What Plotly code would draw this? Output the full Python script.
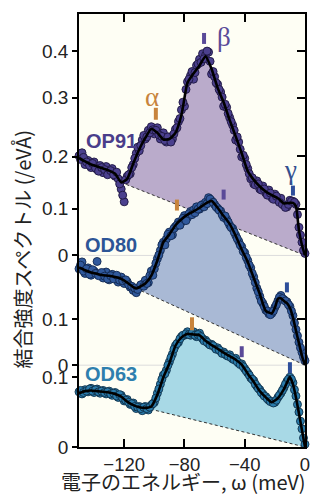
import plotly.graph_objects as go

# ---------------- data ----------------
E_EVEN = list(range(-150, 1, 2))   # measured energies (meV)
E_ODD = list(range(-149, 0, 2))

OP91_DOTS = [0.195, 0.201, 0.178, 0.186, 0.172, 0.183, 0.168, 0.176, 0.162, 0.174,
             0.160, 0.170, 0.155, 0.150, 0.130, 0.105, 0.155, 0.160, 0.178, 0.200,
             0.205, 0.226, 0.228, 0.245, 0.252, 0.238, 0.250, 0.228, 0.240, 0.222,
             0.232, 0.228, 0.247, 0.262, 0.285, 0.292, 0.340, 0.352, 0.345, 0.372,
             0.384, 0.395, 0.392, 0.398, 0.355, 0.350, 0.335, 0.320, 0.292, 0.290,
             0.270, 0.255, 0.226, 0.222, 0.193, 0.190, 0.170, 0.150, 0.140, 0.146,
             0.130, 0.136, 0.122, 0.128, 0.113, 0.120, 0.108, 0.112, 0.098, 0.095,
             0.108, 0.106, 0.100, 0.055, 0.026, 0.004]
OP91_DOTS_ODD = [0.188, 0.192, 0.183, 0.176, 0.180, 0.171, 0.165, 0.172, 0.168, 0.158,
                 0.166, 0.158, 0.163, 0.140, 0.118, 0.148, 0.158, 0.172, 0.190, 0.212,
                 0.215, 0.235, 0.232, 0.240, 0.246, 0.245, 0.236, 0.233, 0.225, 0.232,
                 0.222, 0.238, 0.250, 0.268, 0.300, 0.325, 0.345, 0.360, 0.358, 0.375,
                 0.378, 0.385, 0.400, 0.380, 0.360, 0.338, 0.325, 0.310, 0.296, 0.278,
                 0.262, 0.245, 0.232, 0.208, 0.196, 0.178, 0.160, 0.152, 0.138, 0.140,
                 0.128, 0.130, 0.118, 0.122, 0.110, 0.116, 0.104, 0.100, 0.094, 0.100,
                 0.106, 0.104, 0.080, 0.040, 0.010]
OD80_DOTS = [0.210, 0.225, 0.200, 0.212, 0.196, 0.205, 0.226, 0.198, 0.190, 0.203,
             0.186, 0.198, 0.190, 0.181, 0.192, 0.178, 0.182, 0.170, 0.163, 0.158,
             0.170, 0.176, 0.185, 0.180, 0.205, 0.210, 0.232, 0.250, 0.268, 0.275,
             0.290, 0.284, 0.302, 0.312, 0.312, 0.326, 0.322, 0.335, 0.338, 0.345,
             0.340, 0.350, 0.355, 0.365, 0.358, 0.350, 0.342, 0.336, 0.322, 0.318,
             0.305, 0.298, 0.283, 0.270, 0.258, 0.245, 0.228, 0.212, 0.192, 0.168,
             0.150, 0.135, 0.120, 0.112, 0.113, 0.126, 0.140, 0.152, 0.143, 0.138,
             0.128, 0.108, 0.078, 0.050, 0.028, 0.010]
OD80_DOTS_ODD = [0.218, 0.205, 0.210, 0.198, 0.208, 0.200, 0.195, 0.202, 0.194, 0.188,
                 0.195, 0.188, 0.196, 0.185, 0.184, 0.186, 0.175, 0.172, 0.168, 0.165,
                 0.175, 0.172, 0.178, 0.195, 0.196, 0.222, 0.240, 0.262, 0.262, 0.285,
                 0.282, 0.298, 0.305, 0.305, 0.320, 0.315, 0.330, 0.328, 0.332, 0.340,
                 0.348, 0.345, 0.352, 0.362, 0.355, 0.345, 0.338, 0.328, 0.325, 0.312,
                 0.300, 0.290, 0.276, 0.262, 0.248, 0.235, 0.218, 0.200, 0.180, 0.160,
                 0.140, 0.128, 0.118, 0.110, 0.118, 0.132, 0.148, 0.145, 0.140, 0.132,
                 0.118, 0.092, 0.064, 0.038, 0.018]
OD63_DOTS = [0.079, 0.076, 0.082, 0.079, 0.084, 0.078, 0.083, 0.077, 0.081, 0.076,
             0.080, 0.074, 0.078, 0.071, 0.074, 0.066, 0.068, 0.061, 0.063, 0.055,
             0.058, 0.052, 0.058, 0.053, 0.060, 0.064, 0.077, 0.090, 0.103, 0.110,
             0.122, 0.133, 0.145, 0.150, 0.158, 0.160, 0.165, 0.160, 0.165, 0.158,
             0.163, 0.155, 0.153, 0.148, 0.147, 0.143, 0.142, 0.137, 0.136, 0.131,
             0.132, 0.126, 0.127, 0.120, 0.119, 0.112, 0.106, 0.099, 0.095, 0.087,
             0.082, 0.076, 0.072, 0.067, 0.065, 0.064, 0.071, 0.077, 0.085, 0.094,
             0.100, 0.092, 0.073, 0.050, 0.026, 0.004]
OD63_DOTS_ODD = [0.081, 0.078, 0.080, 0.083, 0.080, 0.082, 0.079, 0.080, 0.078, 0.079,
                 0.076, 0.077, 0.073, 0.075, 0.070, 0.067, 0.064, 0.062, 0.058, 0.057,
                 0.055, 0.057, 0.055, 0.057, 0.062, 0.070, 0.083, 0.097, 0.105, 0.117,
                 0.128, 0.140, 0.148, 0.155, 0.160, 0.162, 0.161, 0.163, 0.160, 0.161,
                 0.158, 0.152, 0.150, 0.146, 0.145, 0.140, 0.139, 0.134, 0.133, 0.130,
                 0.128, 0.125, 0.122, 0.118, 0.115, 0.109, 0.103, 0.097, 0.090, 0.084,
                 0.078, 0.073, 0.069, 0.065, 0.063, 0.067, 0.074, 0.081, 0.090, 0.097,
                 0.097, 0.082, 0.061, 0.037, 0.013]

OP91_LX = [-150, -146, -142, -138, -134, -130, -126, -122, -118, -114, -110, -106, -102, -98,
           -94, -90, -86, -82, -78, -74, -70, -66, -62, -58, -54, -50, -46, -42, -38, -34,
           -30, -26, -22, -18, -14, -10, -8, -6, -4, -2, 0]
OP91_LV = [0.191, 0.184, 0.178, 0.174, 0.170, 0.166, 0.160, 0.143, 0.150, 0.180, 0.208, 0.230,
           0.248, 0.240, 0.227, 0.228, 0.240, 0.275, 0.338, 0.356, 0.372, 0.390, 0.365, 0.328,
           0.300, 0.265, 0.233, 0.200, 0.165, 0.148, 0.135, 0.125, 0.118, 0.112, 0.102, 0.103,
           0.103, 0.096, 0.049, 0.020, 0.0]
OD80_LX = [-150, -146, -142, -138, -134, -130, -126, -122, -118, -114, -112, -110, -106, -102,
           -98, -94, -90, -86, -82, -78, -74, -70, -66, -62, -58, -54, -50, -46, -42, -38,
           -34, -30, -26, -22, -20, -18, -16, -14, -12, -10, -8, -6, -4, -2, 0]
OD80_LV = [0.213, 0.207, 0.202, 0.199, 0.196, 0.195, 0.192, 0.188, 0.180, 0.170, 0.167, 0.170,
           0.178, 0.195, 0.228, 0.268, 0.285, 0.305, 0.318, 0.328, 0.335, 0.343, 0.352, 0.358,
           0.343, 0.325, 0.308, 0.282, 0.252, 0.225, 0.190, 0.155, 0.118, 0.113, 0.125, 0.145,
           0.146, 0.140, 0.135, 0.125, 0.104, 0.075, 0.048, 0.020, 0.0]
OD63_LX = [-150, -146, -142, -138, -134, -130, -126, -122, -118, -114, -110, -106, -102, -98,
           -94, -90, -86, -82, -78, -74, -70, -66, -62, -58, -54, -50, -46, -42, -38, -34,
           -30, -26, -22, -18, -14, -12, -10, -8, -6, -4, -2, 0]
OD63_LV = [0.077, 0.080, 0.081, 0.080, 0.079, 0.078, 0.076, 0.072, 0.065, 0.060, 0.057, 0.056,
           0.058, 0.075, 0.100, 0.120, 0.145, 0.157, 0.162, 0.161, 0.160, 0.152, 0.146, 0.141,
           0.135, 0.130, 0.125, 0.118, 0.105, 0.093, 0.080, 0.071, 0.064, 0.070, 0.083, 0.092,
           0.100, 0.090, 0.071, 0.048, 0.024, 0.0]

# background start energy of each spectrum (dashed line runs from here to 0)
BG_START = {"OP91": -122, "OD80": -112, "OD63": -106}

# feature energies: alpha, beta, gamma
FEAT_E = {"OP91": [-99, -67, -8], "OD80": [-85, -54, -12], "OD63": [-75, -42, -10]}

LEFT_TICK_TEXT = ["0.4", "0.3", "0.2", "0.1", "0", "0.1", "0", "0.1", "0"]
X_TICKS = [-120, -80, -40, 0]

# ---------------- layout constants (display units = px above bottom axis) ----------------
PANEL = {
    "OP91": dict(base=192, scale=512, fill="#baabcb", mcol="#4b408e", mline="#1e1640",
                 lcol="#4a3d8a", label_y=307),
    "OD80": dict(base=82, scale=460, fill="#a9b9d5", mcol="#30599c", mline="#12284f",
                 lcol="#2d5596", label_y=202),
    "OD63": dict(base=0, scale=700, fill="#a8d9e6", mcol="#2a7bab", mline="#0e3048",
                 lcol="#2e7fae", label_y=73),
}
FEAT_Y = {"OP91": [(328, 340), (404, 415), (252, 262)],
          "OD80": [(237, 248), (248, 258), (155, 165)],
          "OD63": [(117, 130), (90, 101), (74, 85)]}
FEAT_COL = ["#c8843c", "#5a4a98", "#2e4f9a"]
LEFT_TICK_POS = [397, 350, 291, 239, 192, 128, 82, 70, 0]
RIGHT_TICK_POS = [397, 350, 292, 239, 128]
YMAX = 434

DATA = {
    "OP91": (OP91_DOTS + OP91_DOTS_ODD, OP91_LX, OP91_LV),
    "OD80": (OD80_DOTS + OD80_DOTS_ODD, OD80_LX, OD80_LV),
    "OD63": (OD63_DOTS + OD63_DOTS_ODD, OD63_LX, OD63_LV),
}
E_ALL = E_EVEN + E_ODD

fig = go.Figure()

for name in ["OP91", "OD80", "OD63"]:
    dots, lx, lv = DATA[name]
    p = PANEL[name]
    d = lambda v: p["base"] + v * p["scale"]
    start = BG_START[name]
    fx = [x for x in lx if x >= start]
    fy = [d(v) for x, v in zip(lx, lv) if x >= start]
    v_start = lv[lx.index(start)]
    fig.add_trace(go.Scatter(x=fx + [start], y=fy + [d(v_start)], mode="lines",
                             fill="toself", fillcolor=p["fill"], line=dict(width=0),
                             hoverinfo="skip", showlegend=False))
    fig.add_trace(go.Scatter(x=[start, 0], y=[d(v_start), d(0)], mode="lines",
                             line=dict(color="#333333", width=1, dash="3px,2.5px"),
                             showlegend=False))
    fig.add_trace(go.Scatter(x=E_ALL, y=[d(v) for v in dots], mode="markers",
                             marker=dict(size=8, color=p["mcol"],
                                         line=dict(color=p["mline"], width=0.9)),
                             cliponaxis=False, showlegend=False))
    fig.add_trace(go.Scatter(x=lx, y=[d(v) for v in lv], mode="lines",
                             line=dict(color="black", width=2.6, shape="spline", smoothing=0.5),
                             cliponaxis=False, showlegend=False))
    for i, (e, (y0, y1)) in enumerate(zip(FEAT_E[name], FEAT_Y[name])):
        fig.add_trace(go.Scatter(x=[e, e], y=[y0, y1], mode="lines",
                                 line=dict(color=FEAT_COL[i], width=4),
                                 showlegend=False))
    fig.add_annotation(x=-128.5, y=p["label_y"], xref="x", yref="y", text="<b>%s</b>" % name,
                       showarrow=False, xanchor="center", yanchor="middle",
                       font=dict(family="Liberation Sans", size=20, color=p["lcol"]))

for name in ["OP91", "OD80"]:
    fig.add_shape(type="line", xref="paper", x0=0, x1=1, yref="y",
                  y0=PANEL[name]["base"], y1=PANEL[name]["base"],
                  line=dict(color="#dcdcdc", width=1), layer="below")

greek = [("α", -101.7, 351, FEAT_COL[0]), ("β", -54, 411, FEAT_COL[1]), ("γ", -9.8, 278, "#34508f")]
for t, x, y, c in greek:
    fig.add_annotation(x=x, y=y, xref="x", yref="y", text=t, showarrow=False,
                       xanchor="center", yanchor="middle",
                       font=dict(family="Liberation Serif", size=27, color=c))

fig.add_trace(go.Scatter(x=[-150], y=[0], yaxis="y2", mode="markers",
                         marker=dict(opacity=0), showlegend=False, hoverinfo="skip"))

fig.add_annotation(xref="paper", yref="paper", x=0.462, y=-0.0805, text="電子のエネルギー, ω (meV)",
                   showarrow=False, xanchor="center", yanchor="middle",
                   font=dict(family="Noto Sans CJK JP", size=20, color="#222222"))
fig.add_annotation(xref="paper", yref="paper", x=-0.248, y=0.4585, text="結合強度スペクトル (/eVÅ)",
                   textangle=-90, showarrow=False, xanchor="center", yanchor="middle",
                   font=dict(family="Noto Sans CJK JP", size=20, color="#222222"))

fig.update_layout(
    width=322, height=496,
    margin=dict(l=79, r=13, t=13, b=49),
    paper_bgcolor="white", plot_bgcolor="#fefef4",
    xaxis=dict(range=[-150, 0], tickvals=X_TICKS, ticks="inside", ticklen=8, tickwidth=1.5,
               tickcolor="black", showline=True, linecolor="black", linewidth=1.5,
               mirror="ticks", showgrid=False, zeroline=False,
               tickfont=dict(family="Liberation Sans", size=18.5, color="#222222")),
    yaxis=dict(range=[0, YMAX], tickvals=LEFT_TICK_POS, ticktext=LEFT_TICK_TEXT,
               ticks="outside", ticklen=5, tickwidth=1.5, tickcolor="black",
               showline=True, linecolor="black", linewidth=1.5, mirror=True,
               showgrid=False, zeroline=False,
               tickfont=dict(family="Liberation Sans", size=19, color="#222222")),
    yaxis2=dict(range=[0, YMAX], overlaying="y", side="right", tickvals=RIGHT_TICK_POS,
                ticks="inside", ticklen=8, tickwidth=1.5, tickcolor="black",
                showticklabels=False, showline=False, showgrid=False, zeroline=False),
    showlegend=False,
)

fig.write_html("out.html", config={"displayModeBar": False},
               post_script="document.body.style.margin='0';")
